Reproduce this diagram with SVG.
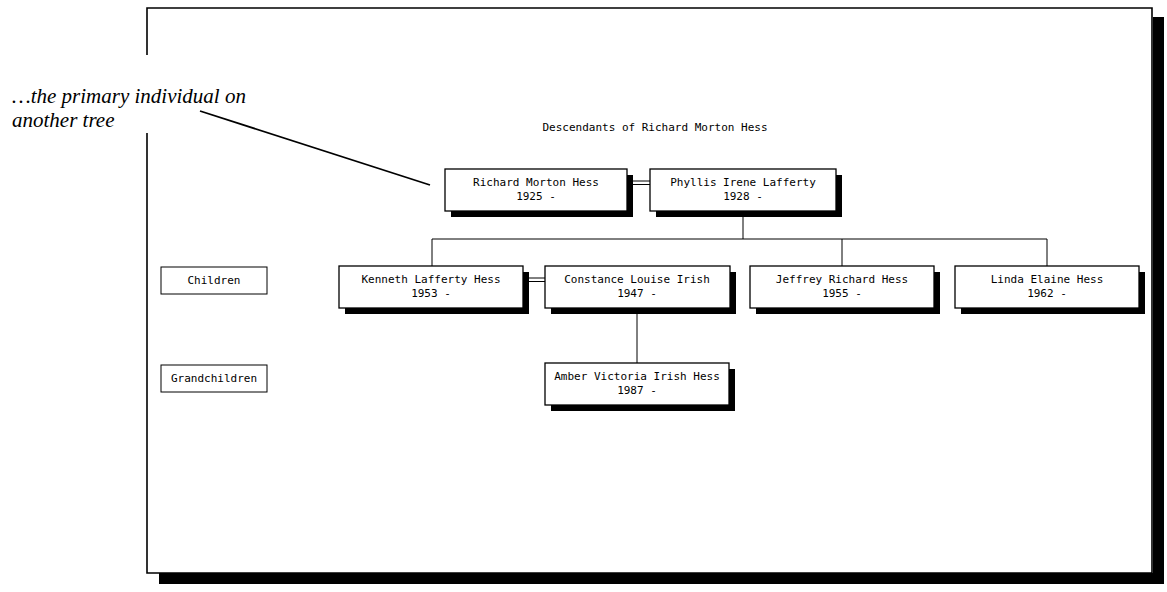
<svg xmlns="http://www.w3.org/2000/svg" width="1167" height="592" viewBox="0 0 1167 592">
  <style>
    .frame { fill: none; stroke: #000; stroke-width: 1.6; }
    .shadow { fill: #000; }
    .box { fill: #fff; stroke: #000; stroke-width: 1.3; }
    .label { fill: #fff; stroke: #000; stroke-width: 1; }
    .t { font-family: "DejaVu Sans Mono", "Liberation Mono", monospace; font-size: 11px; fill: #000; text-anchor: middle; }
    .note { font-family: "Liberation Serif", serif; font-style: italic; font-size: 21px; fill: #000; }
    .link { stroke: #000; stroke-width: 1; fill: none; }
    .lead { stroke: #000; stroke-width: 1.8; fill: none; }
  </style>
  <rect width="1167" height="592" fill="#fff"/>

  <!-- page frame with drop shadow; left edge broken around the note -->
  <g id="page">
    <rect class="shadow" x="1153" y="17" width="11" height="567"/>
    <rect class="shadow" x="159" y="573" width="1005" height="11"/>
    <path class="frame" d="M147 55 V8 H1152 V573 H147 V133"/>
  </g>

  <!-- side note -->
  <g id="note">
    <text class="note" x="12" y="103">…the primary individual on</text>
    <text class="note" x="12" y="127">another tree</text>
    <line class="lead" x1="200" y1="111" x2="430" y2="185"/>
  </g>

  <text class="t" x="655" y="131">Descendants of Richard Morton Hess</text>

  <!-- generation labels -->
  <g id="label-children">
    <rect class="label" x="161" y="267" width="106" height="27"/>
    <text class="t" x="214" y="284">Children</text>
  </g>
  <g id="label-grandchildren">
    <rect class="label" x="161" y="365" width="106" height="27"/>
    <text class="t" x="214" y="382">Grandchildren</text>
  </g>

  <!-- connectors -->
  <g id="connectors">
    <path class="link" d="M633 181 H650 M633 184.5 H650"/>
    <path class="link" d="M529 278 H545 M529 281.5 H545"/>
    <path class="link" d="M743 217 V239 M432 239 H1047 M432 239 V266 M842 239 V266 M1047 239 V266"/>
    <path class="link" d="M637 314 V363"/>
  </g>

  <!-- people -->
  <g id="richard">
    <rect class="shadow" x="451" y="175" width="182" height="42"/>
    <rect class="box" x="445" y="169" width="182" height="42"/>
    <text class="t" x="536" y="186">Richard Morton Hess</text>
    <text class="t" x="536" y="200">1925 -</text>
  </g>
  <g id="phyllis">
    <rect class="shadow" x="656" y="175" width="186" height="42"/>
    <rect class="box" x="650" y="169" width="186" height="42"/>
    <text class="t" x="743" y="186">Phyllis Irene Lafferty</text>
    <text class="t" x="743" y="200">1928 -</text>
  </g>
  <g id="kenneth">
    <rect class="shadow" x="345" y="272" width="184" height="42"/>
    <rect class="box" x="339" y="266" width="184" height="42"/>
    <text class="t" x="431" y="283">Kenneth Lafferty Hess</text>
    <text class="t" x="431" y="297">1953 -</text>
  </g>
  <g id="constance">
    <rect class="shadow" x="551" y="272" width="185" height="42"/>
    <rect class="box" x="545" y="266" width="185" height="42"/>
    <text class="t" x="637" y="283">Constance Louise Irish</text>
    <text class="t" x="637" y="297">1947 -</text>
  </g>
  <g id="jeffrey">
    <rect class="shadow" x="756" y="272" width="184" height="42"/>
    <rect class="box" x="750" y="266" width="184" height="42"/>
    <text class="t" x="842" y="283">Jeffrey Richard Hess</text>
    <text class="t" x="842" y="297">1955 -</text>
  </g>
  <g id="linda">
    <rect class="shadow" x="961" y="272" width="184" height="42"/>
    <rect class="box" x="955" y="266" width="184" height="42"/>
    <text class="t" x="1047" y="283">Linda Elaine Hess</text>
    <text class="t" x="1047" y="297">1962 -</text>
  </g>
  <g id="amber">
    <rect class="shadow" x="551" y="369" width="184" height="42"/>
    <rect class="box" x="545" y="363" width="184" height="42"/>
    <text class="t" x="637" y="380">Amber Victoria Irish Hess</text>
    <text class="t" x="637" y="394">1987 -</text>
  </g>
</svg>
